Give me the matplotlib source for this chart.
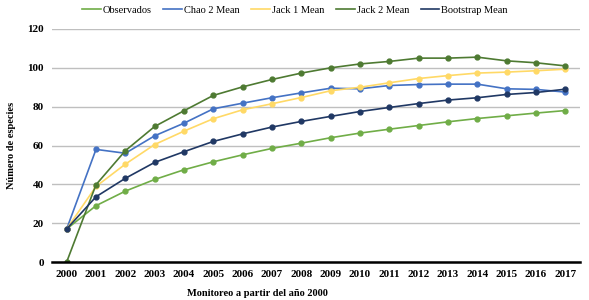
import matplotlib.pyplot as plt
import numpy as np

anios = [str(a) for a in range(2000, 2018)]

observados = [17, 29, 36.5, 42.5, 47.5, 51.6, 55.2, 58.5, 61.2, 64, 66.4, 68.4,
              70.3, 72.2, 73.9, 75.3, 76.7, 78]
chao2 = [17, 58, 56, 65, 71.5, 78.9, 81.8, 84.6, 87.1, 89.5, 89.2, 90.9,
         91.4, 91.6, 91.6, 89.2, 88.9, 87.5]
jack1 = [17, 38.9, 50.4, 60.5, 67.4, 73.8, 78.4, 81.5, 84.7, 88.2, 90, 92.3,
         94.5, 96, 97.3, 97.8, 98.5, 99.3]
jack2 = [0, 39.8, 57.3, 69.8, 77.9, 85.8, 90.2, 94, 97.3, 100, 102, 103.3,
         105, 105, 105.5, 103.6, 102.6, 101]
bootstrap = [17, 33.6, 43.1, 51.3, 56.8, 62.1, 66, 69.5, 72.4, 75, 77.5, 79.6,
             81.6, 83.4, 84.6, 86.3, 87.3, 89]

series = [
    ("Observados", observados, "#70AD47"),
    ("Chao 2 Mean", chao2, "#4472C4"),
    ("Jack 1 Mean", jack1, "#FFD966"),
    ("Jack 2 Mean", jack2, "#4E7A32"),
    ("Bootstrap Mean", bootstrap, "#203864"),
]

plt.rcParams['font.family'] = ['Liberation Serif', 'DejaVu Serif']

fig = plt.figure(figsize=(5.89, 3.0), dpi=100)
ax = fig.add_axes([52/589, 1 - 262/300, 528/589, 233/300])

x = np.arange(len(anios))
for nombre, vals, color in series:
    ax.plot(x, vals, color=color, linewidth=1.2, marker='o', markersize=3.5,
            label=nombre, zorder=3)

ax.set_xlim(-0.5, len(anios) - 0.5)
ax.set_ylim(0, 120)
ax.set_yticks(range(0, 121, 20))
ax.set_xticks(x)
ax.set_xticklabels(anios)
ax.grid(axis='y', color='#BFBFBF', linewidth=1)
ax.set_axisbelow(True)
for s in ['top', 'right', 'left']:
    ax.spines[s].set_visible(False)
ax.spines['bottom'].set_linewidth(1.8)
ax.spines['bottom'].set_zorder(4)
ax.tick_params(length=0, labelsize=8, pad=6)
for lbl in ax.get_xticklabels() + ax.get_yticklabels():
    lbl.set_fontweight('bold')

ax.set_xlabel('Monitoreo a partir del año 2000', fontsize=7.5, fontweight='bold')
ax.xaxis.set_label_coords((257 - 52) / 528, -0.115)
ax.set_ylabel('Número de especies', fontsize=7.5, fontweight='bold')
ax.yaxis.set_label_coords(-0.068, 0.5)

fig.legend(loc='center', bbox_to_anchor=(295/589, 1 - 10/300), ncol=5,
           frameon=False, fontsize=7.5, handlelength=1.8, handletextpad=0.2,
           columnspacing=1.1, markerscale=0)

fig.savefig('out.png', dpi=100)
